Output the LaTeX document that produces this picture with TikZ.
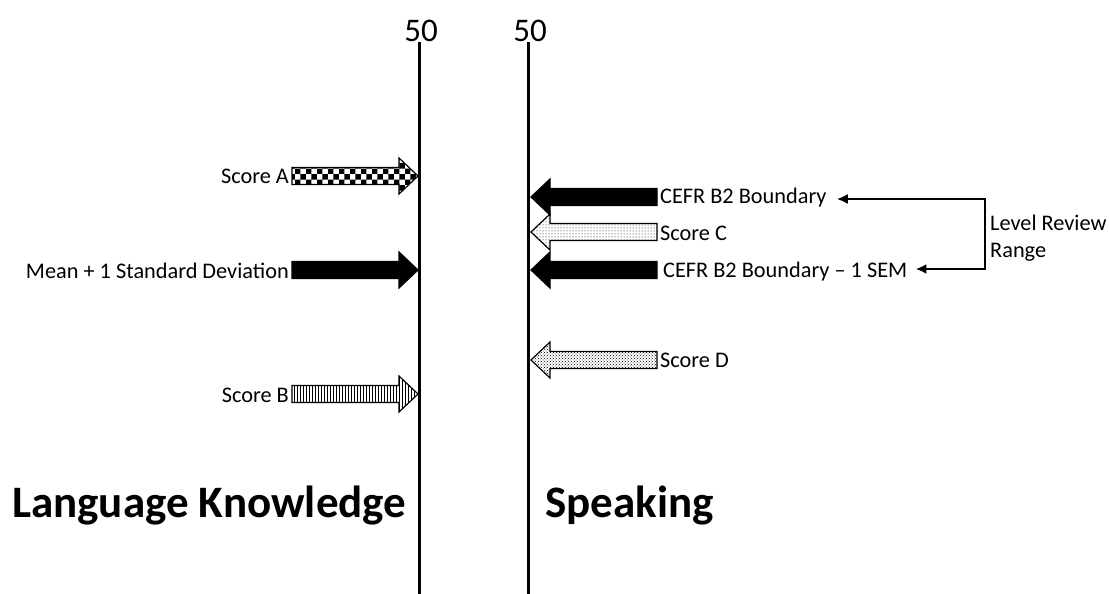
\documentclass[tikz,border=0pt]{standalone}
\usepackage{fontspec}
\setmainfont{Carlito}
\usetikzlibrary{patterns,arrows.meta}
\tikzset{
  lbl/.style={inner sep=0pt, font=\fontsize{22.3}{27}\selectfont},
  num/.style={inner sep=0pt, font=\fontsize{33}{38}\selectfont},
  ttl/.style={inner sep=0pt, font=\fontsize{45}{52}\selectfont\bfseries},
  axis/.style={line width=3pt},
  bracket/.style={line width=2.6pt, {Latex[length=11pt,width=10pt]}-{Latex[length=11pt,width=10pt]}},
  arrowbox/.style={draw=black, line width=1.2pt},
}
% right-pointing block arrow: #1 = y, #2 = style
\newcommand\RBlock[2]{%
  \path[arrowbox,#2] (292,#1-8.5) -- (399,#1-8.5) -- (399,#1-18) -- (418,#1) -- (399,#1+18) -- (399,#1+8.5) -- (292,#1+8.5) -- cycle;}
% left-pointing block arrow
\newcommand\LBlock[2]{%
  \path[arrowbox,#2] (657,#1-8.5) -- (550,#1-8.5) -- (550,#1-18) -- (531,#1) -- (550,#1+18) -- (550,#1+8.5) -- (657,#1+8.5) -- cycle;}
\begin{document}
\begin{tikzpicture}[x=1pt,y=-1pt]
\useasboundingbox (0,0) rectangle (1109,594);
% axes
\coordinate (lktop) at (419,42);
\coordinate (lkbot) at (419,594);
\coordinate (sptop) at (528,42);
\coordinate (spbot) at (528,594);
\draw[axis] (lktop) -- (lkbot);
\draw[axis] (sptop) -- (spbot);
\node[num, anchor=south] (n1) at (421,42) {50};
\node[num, anchor=south] (n2) at (530,42) {50};
% left side arrows
\RBlock{176}{pattern=checkerboard}
\RBlock{270}{fill=black}
\RBlock{394}{pattern=vertical lines}
\node[lbl, anchor=east] (sa) at (289,176) {Score A};
\node[lbl, anchor=east] (mean) at (289,271) {Mean + 1 Standard Deviation};
\node[lbl, anchor=east] (sb) at (289,395) {Score B};
% right side arrows
\LBlock{197}{fill=black}
\LBlock{232}{pattern=dots}
\LBlock{270}{fill=black}
\LBlock{360}{pattern=crosshatch dots}
\node[lbl, anchor=west] (b2) at (660,198) {CEFR B2 Boundary};
\node[lbl, anchor=west] (sc) at (660,233) {Score C};
\node[lbl, anchor=west] (sem) at (663,272) {CEFR B2 Boundary -- 1 SEM};
\node[lbl, anchor=west] (sd) at (660,360) {Score D};
% level review range bracket
\coordinate (ct) at (985,199);
\coordinate (cb) at (985,269);
\draw[bracket] ([xshift=10pt]b2.east |- ct) -- (ct) -- (cb) -- ([xshift=8pt]sem.east |- cb);
\node[lbl, anchor=west, align=left] (lrr) at (990,238) {Level Review\\Range};
% titles
\node[ttl, anchor=base west] (lk) at (12,517) {Language Knowledge};
\node[ttl, anchor=base west] (sp) at (545,517) {Speaking};
\end{tikzpicture}
\end{document}
